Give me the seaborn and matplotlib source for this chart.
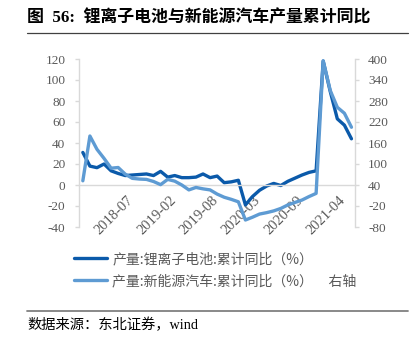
import matplotlib
matplotlib.use("Agg")
import matplotlib.pyplot as plt
from matplotlib.lines import Line2D
from matplotlib.transforms import ScaledTranslation
import seaborn as sns
import numpy as np
import pandas as pd

# ---- data ----
months = ["2017-12",
          "2018-02", "2018-03", "2018-04", "2018-05", "2018-06", "2018-07", "2018-08", "2018-09", "2018-10", "2018-11", "2018-12",
          "2019-02", "2019-03", "2019-04", "2019-05", "2019-06", "2019-07", "2019-08", "2019-09", "2019-10", "2019-11", "2019-12",
          "2020-02", "2020-03", "2020-04", "2020-05", "2020-06", "2020-07", "2020-08", "2020-09", "2020-10", "2020-11", "2020-12",
          "2021-02", "2021-03", "2021-04", "2021-05", "2021-06"]
li_battery = [31, 18, 16.5, 20, 13.5, 11, 9, 9.5, 10, 10.5, 9, 13,
              7.5, 9, 7, 7, 7.5, 10.5, 7, 8.5, 2.2, 3, 4.5,
              -19, -11, -5, -1, 1.5, -0.5, 3.5, 6.5, 9.5, 12, 13.5,
              118, 89, 63, 57, 44]
nev = [52, 180, 142, 116, 88, 90, 71, 59, 57, 56, 50, 41,
       56, 51, 40, 26, 33, 29, 26, 14, 5, -1, -8,
       -60, -52, -43, -39, -34, -27, -17, -10, -3, 7, 16,
       395, 310, 262, 245, 205]
tick_months = ["2018-07", "2019-02", "2019-08", "2020-03", "2020-09", "2021-04"]
left_ticks = [120, 100, 80, 60, 40, 20, 0, -20, -40]
right_ticks = [400, 340, 280, 220, 160, 100, 40, -20, -80]
label_li = "产量:锂离子电池:累计同比（%）"
label_nev = "产量:新能源汽车:累计同比（%）     右轴"
title = "图  56:  锂离子电池与新能源汽车产量累计同比"
source = "数据来源：东北证券，wind"

df = pd.DataFrame({"idx": np.arange(len(months)), "month": months,
                   "li": li_battery, "nev": nev})

sns.set_style("white")
plt.rcParams['font.family'] = ['Liberation Serif', 'Noto Sans CJK SC', 'DejaVu Sans']
cjk = ['Noto Sans CJK SC', 'DejaVu Sans']
serif_cjk = ['Liberation Serif', 'Noto Sans CJK SC']

DARK = "#0B5AAA"
LIGHT = "#5E9BD3"
GRAY_TXT = "#595959"
SPINE = "#D9D9D9"

W, H = 418, 340
fig = plt.figure(figsize=(W / 100, H / 100), dpi=100)
ax = fig.add_axes([79.3 / W, 1 - 227 / H, (355 - 79.3) / W, 168 / H])
ax2 = ax.twinx()

sns.lineplot(data=df, x="idx", y="li", ax=ax, color=DARK, lw=2.4, legend=False)
sns.lineplot(data=df, x="idx", y="nev", ax=ax2, color=LIGHT, lw=2.4, legend=False)

ax.set_xlim(-0.5, len(months) - 0.5)
ax.set_ylim(-40, 120)
ax2.set_ylim(-80, 400)
ax.set_xlabel("")
ax.set_ylabel("")
ax2.set_ylabel("")

ax.tick_params(axis="y", direction="out", length=3, width=1, color=SPINE, pad=7,
               labelsize=9.5, labelcolor=GRAY_TXT)
ax2.tick_params(axis="y", direction="out", length=3, width=1, color=SPINE, pad=6.5,
                labelsize=9.5, labelcolor=GRAY_TXT)
ax.tick_params(axis="x", direction="out", length=3.5, width=1, color=SPINE, pad=3,
               labelsize=10.5, labelcolor=GRAY_TXT, labelrotation=45)

ax.set_yticks(left_ticks)
ax.set_yticklabels([str(v) for v in left_ticks])
ax2.set_yticks(right_ticks)
ax2.set_yticklabels([str(v) for v in right_ticks])

pos = [months.index(m) - 0.5 for m in tick_months]
ax.set_xticks(pos)
ax.set_xticklabels(tick_months)

for s in ["top", "right"]:
    ax.spines[s].set_visible(False)
ax.spines["bottom"].set_position(("data", 0))
ax.spines["bottom"].set_color(SPINE)
ax.spines["left"].set_color(SPINE)
ax.spines["bottom"].set_linewidth(1.0)
ax.spines["left"].set_linewidth(1.0)
for s in ["top", "left", "bottom"]:
    ax2.spines[s].set_visible(False)
ax2.spines["right"].set_color(SPINE)
ax2.spines["right"].set_linewidth(1.0)
ax.grid(False)
ax2.grid(False)
ax.patch.set_visible(False)

# legend
h1 = ax.get_lines()[0]
h2 = ax2.get_lines()[0]
leg = fig.legend([h1, h2], [label_li, label_nev], loc="upper left",
                 bbox_to_anchor=(74 / W, 1 - 252 / H), frameon=False,
                 prop={"family": cjk, "size": 10}, handlelength=2.4, handletextpad=0.35,
                 labelspacing=0.6, borderpad=0, borderaxespad=0)
for t in leg.get_texts():
    t.set_color(GRAY_TXT)

# title, rules, source
fig.text(27 / W, 1 - 18 / H, title, ha="left", va="center", fontsize=12.2,
         fontweight="bold", family=serif_cjk, color="#000000")
fig.add_artist(Line2D([27 / W, 408 / W], [1 - 33.3 / H] * 2, color="#404040", lw=0.9))
fig.add_artist(Line2D([27 / W, 408 / W], [1 - 310.7 / H] * 2, color="#808080", lw=1.3))
fig.text(27 / W, 1 - 325 / H, source, ha="left", va="center", fontsize=10.3,
         family=serif_cjk, color="#000000")

# final label alignment (after all tick_params calls)
off = ScaledTranslation(5 / 100, 0, fig.dpi_scale_trans)
for lab in ax.get_xticklabels():
    lab.set_rotation(45)
    lab.set_ha("right")
    lab.set_va("top")
    lab.set_rotation_mode("anchor")
    lab.set_transform(lab.get_transform() + off)

fig.savefig("out.png", dpi=100)
